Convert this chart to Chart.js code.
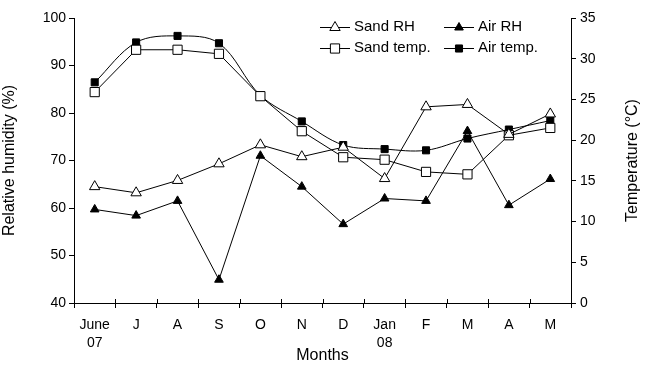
<!DOCTYPE html>
<html>
<head>
<meta charset="utf-8">
<title>Sand and air RH / temperature</title>
<script src="https://cdn.jsdelivr.net/npm/chart.js@4"></script>
<style>
  html, body { margin: 0; padding: 0; background: #fff; }
  #wrap { width: 654px; height: 365px; position: relative; }
</style>
</head>
<body>
<div id="wrap"><canvas id="chart" width="654" height="365"></canvas></div>
<script>
'use strict';

/* ---- data ---- */
const months   = [['June', '07'], 'J', 'A', 'S', 'O', 'N', 'D', ['Jan', '08'], 'F', 'M', 'A', 'M'];
const sandRH   = [64.5, 63.2, 65.8, 69.3, 73.3, 70.8, 72.8, 66.2, 81.3, 81.8, 75.5, 79.8];
const airRH    = [59.7, 58.4, 61.5, 44.9, 71.0, 64.5, 56.6, 62.0, 61.5, 76.2, 60.6, 66.1];
const sandTemp = [25.9, 31.1, 31.1, 30.6, 25.4, 21.1, 17.9, 17.6, 16.1, 15.8, 20.6, 21.5];
const airTemp  = [27.1, 32.0, 32.8, 31.9, 25.5, 22.3, 19.4, 18.9, 18.75, 20.2, 21.3, 22.4];

const rhTicks   = [40, 50, 60, 70, 80, 90, 100];
const tempTicks = [0, 5, 10, 15, 20, 25, 30, 35];

const FONT = "'Liberation Sans', Arial, sans-serif";

/* legend entries (2 x 2 grid, drawn by the plugin below) */
const legendItems = [
  { label: 'Sand RH',    style: 'triangle', fill: '#fff', r: 6 },
  { label: 'Air RH',     style: 'triangle', fill: '#000', r: 5 },
  { label: 'Sand temp.', style: 'rect',     fill: '#fff', r: 6.5 },
  { label: 'Air temp.',  style: 'rect',     fill: '#000', r: 5 },
];

function drawLegendMarker(ctx, it, cx, cy) {
  ctx.fillStyle = it.fill;
  ctx.strokeStyle = '#000';
  ctx.lineWidth = 1;
  Chart.helpers.drawPoint(ctx, { pointStyle: it.style, radius: it.r, borderWidth: 1, rotation: 0 }, cx, cy);
}

/* ---- extras: inner half of x ticks, right title, legend ---- */
const extras = {
  id: 'extras',
  afterDraw(chart) {
    const ctx = chart.ctx;
    const x = chart.scales.x;
    const area = chart.chartArea;

    // x tick marks also reach up into the plot
    ctx.save();
    ctx.strokeStyle = '#000';
    ctx.lineWidth = 1;
    ctx.beginPath();
    for (let i = 0; i <= months.length; i++) {
      const px = Math.round(x.getPixelForValue(i - 0.5)) + 0.5;
      ctx.moveTo(px, area.bottom);
      ctx.lineTo(px, area.bottom - 4);
    }
    ctx.stroke();

    // right axis title, reading bottom to top like the left one
    ctx.fillStyle = '#000';
    ctx.font = '16px ' + FONT;
    ctx.textAlign = 'center';
    ctx.textBaseline = 'middle';
    ctx.translate(633, (area.top + area.bottom) / 2);
    ctx.rotate(-Math.PI / 2);
    ctx.fillText('Temperature (°C)', 0, 0);
    ctx.restore();

    // legend
    ctx.save();
    ctx.font = '15px ' + FONT;
    ctx.textBaseline = 'middle';
    legendItems.forEach((it, i) => {
      const lx = i % 2 === 0 ? 320 : 444;
      const ly = i < 2 ? 27 : 48;
      ctx.strokeStyle = '#000';
      ctx.lineWidth = 1;
      ctx.beginPath();
      ctx.moveTo(lx, ly + 0.5);
      ctx.lineTo(lx + 30, ly + 0.5);
      ctx.stroke();
      drawLegendMarker(ctx, it, lx + 15, ly + 0.5);
      ctx.fillStyle = '#000';
      ctx.fillText(it.label, lx + 34, ly);
    });
    ctx.restore();
  }
};

function series(label, data, axis, style, fill, r, tension) {
  return {
    label, data, yAxisID: axis,
    borderColor: '#000', borderWidth: 1,
    pointStyle: style, pointRadius: r, pointHoverRadius: r,
    pointBackgroundColor: fill, pointBorderColor: '#000', pointBorderWidth: 1,
    tension: tension || 0, fill: false,
  };
}

new Chart(document.getElementById('chart'), {
  type: 'line',
  data: {
    labels: months,
    datasets: [
      series('Sand RH',    sandRH,   'y',  'triangle', '#fff', 6),
      series('Air RH',     airRH,    'y',  'triangle', '#000', 5),
      series('Sand temp.', sandTemp, 'y2', 'rect',     '#fff', 6.5),
      series('Air temp.',  airTemp,  'y2', 'rect',     '#000', 5, 0.35),
    ],
  },
  options: {
    responsive: false,
    animation: false,
    layout: { padding: { top: 18, left: 0, right: 0, bottom: 0 } },
    plugins: { legend: { display: false }, tooltip: { enabled: false } },
    scales: {
      x: {
        offset: true,
        grid: { offset: true, drawOnChartArea: false, color: '#000', tickLength: 5 },
        border: { display: true, color: '#000', width: 1 },
        ticks: { color: '#000', font: { family: FONT, size: 14, lineHeight: 1.3 }, maxRotation: 0, autoSkip: false, padding: 8 },
        title: { display: true, text: 'Months', color: '#000', font: { family: FONT, size: 16 }, padding: { top: 0, bottom: 0 } },
        afterFit(s) { s.height = 62; },
      },
      y: {
        position: 'left', min: 40, max: 100,
        afterBuildTicks(s) { s.ticks = rhTicks.map(v => ({ value: v })); },
        grid: { drawOnChartArea: false, color: '#000', tickLength: 5 },
        border: { display: true, color: '#000', width: 1 },
        ticks: { color: '#000', font: { family: FONT, size: 14 }, padding: 3 },
        title: { display: true, text: 'Relative humidity (%)', color: '#000', font: { family: FONT, size: 16 }, padding: 0 },
        afterFit(s) { s.width = 74; },
      },
      y2: {
        position: 'right', min: 0, max: 35,
        afterBuildTicks(s) { s.ticks = tempTicks.map(v => ({ value: v })); },
        grid: { drawOnChartArea: false, color: '#000', tickLength: 5 },
        border: { display: true, color: '#000', width: 1 },
        ticks: { color: '#000', font: { family: FONT, size: 14 }, padding: 4 },
        afterFit(s) { s.width = 83; },
      },
    },
  },
  plugins: [extras],
});
</script>
</body>
</html>
